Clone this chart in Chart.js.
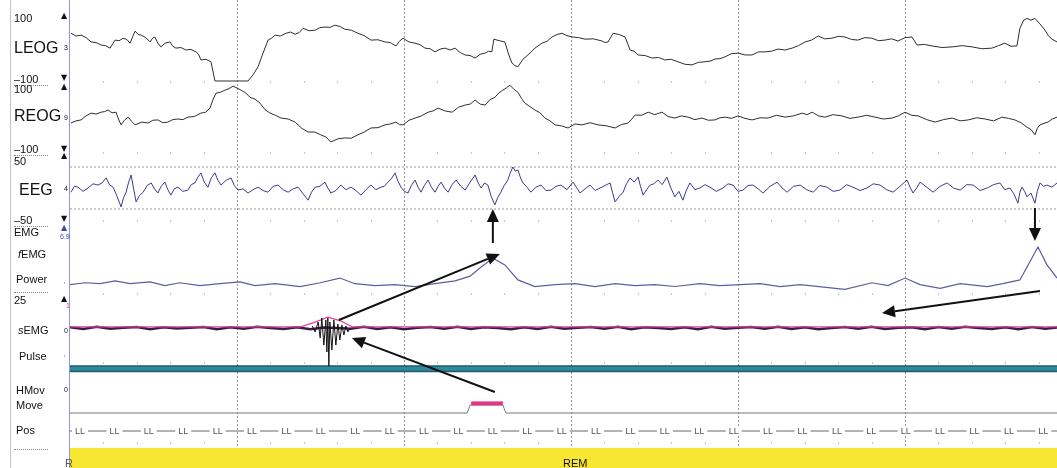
<!DOCTYPE html>
<html>
<head>
<meta charset="utf-8">
<title>PSG epoch</title>
<script src="https://cdn.jsdelivr.net/npm/chart.js@4.4.1/dist/chart.umd.min.js"></script>
<style>
html, body { margin: 0; padding: 0; background: #fff; }
#wrap { position: relative; width: 1057px; height: 468px; overflow: hidden; font-family: 'Liberation Sans', Arial, sans-serif; }
#psg { position: absolute; left: 0; top: 0; }
.lbl { position: absolute; line-height: 1; white-space: nowrap; color: #111; }
.s { font-size: 11px; }
.b { font-size: 16px; }
.t { font-size: 7px; }
.m { font-size: 8px; font-family: 'DejaVu Sans', sans-serif; }
.dot { border-bottom: 1px dotted #888; width: 34px; }
.rule { position: absolute; }
</style>
</head>
<body>
<div id="wrap">
  <canvas id="psg" width="1057" height="468"></canvas>
  <div class="rule" style="left:10px;top:0;width:1px;height:468px;background:#c4c4c4"></div>
  <div class="rule" style="left:69px;top:0;width:1px;height:468px;background:#8f93e3"></div>

  <div class="lbl s" style="left:14px;top:13px">100</div>
  <div class="lbl b" style="left:14px;top:40px">LEOG</div>
  <div class="lbl t" style="left:64px;top:44px">3</div>
  <div class="lbl m" style="left:61px;top:12px">▲</div>
  <div class="lbl m" style="left:61px;top:74px">▼</div>
  <div class="lbl s dot" style="left:14px;top:74px">–100</div>
  <div class="lbl s" style="left:14px;top:84px">100</div>
  <div class="lbl m" style="left:61px;top:83px">▲</div>
  <div class="lbl b" style="left:14px;top:108px">REOG</div>
  <div class="lbl t" style="left:64px;top:114px">9</div>
  <div class="lbl s dot" style="left:14px;top:144px">–100</div>
  <div class="lbl m" style="left:61px;top:145px">▼</div>
  <div class="lbl s" style="left:14px;top:156px">50</div>
  <div class="lbl m" style="left:61px;top:152px">▲</div>
  <div class="lbl b" style="left:19px;top:182px">EEG</div>
  <div class="lbl t" style="left:64px;top:185px">4</div>
  <div class="lbl s dot" style="left:14px;top:215px">–50</div>
  <div class="lbl m" style="left:61px;top:215px">▼</div>
  <div class="lbl s" style="left:14px;top:227px">EMG</div>
  <div class="lbl m" style="left:61px;top:224px;color:#3848b0">▲</div>
  <div class="lbl t" style="left:60px;top:233px;color:#3848b0">6.9</div>
  <div class="lbl s" style="left:18px;top:249px"><i>f</i>EMG</div>
  <div class="lbl s" style="left:16px;top:274px">Power</div>
  <div class="lbl t" style="left:64px;top:282px;color:#223">ʼ</div>
  <div class="rule" style="left:14px;top:292px;width:34px;border-top:1px dotted #888"></div>
  <div class="lbl s" style="left:14px;top:295px">25</div>
  <div class="lbl m" style="left:61px;top:295px">▲</div>
  <div class="lbl t" style="left:66px;top:302px;color:#e0409a">1</div>
  <div class="lbl s" style="left:18px;top:325px"><i>s</i>EMG</div>
  <div class="lbl t" style="left:64px;top:327px">0</div>
  <div class="lbl s" style="left:19px;top:351px">Pulse</div>
  <div class="lbl t" style="left:64px;top:355px;color:#223">ʼ</div>
  <div class="lbl s" style="left:16px;top:385px">HMov</div>
  <div class="lbl t" style="left:64px;top:386px">0</div>
  <div class="lbl s" style="left:16px;top:400px">Move</div>
  <div class="lbl s" style="left:16px;top:425px">Pos</div>
  <div class="rule" style="left:14px;top:449px;width:34px;border-top:1px dotted #888"></div>
  <div class="lbl s" style="left:65px;top:458px;color:#555">R</div>
  <div class="lbl s" style="left:563px;top:458px">REM</div>
</div>
<script>
// one 30 s epoch, [seconds, value] samples; dotted grid every 5 s
const EPOCH_END = 29.55;

// LEOG (uV), clipped at -100
const leog = [[0.03,54],[0.18,45],[0.33,48],[0.48,40],[0.63,26],[0.78,24],[0.93,16],[1.06,14],[1.20,6],[1.28,20],
  [1.35,32],[1.47,30],[1.59,38],[1.70,34],[1.80,22],[1.88,44],[1.95,61],[2.04,50],[2.13,48],[2.27,40],
  [2.40,26],[2.47,38],[2.54,42],[2.63,22],[2.72,10],[2.85,22],[2.99,26],[3.08,12],[3.17,6],[3.32,8],
  [3.47,0],[3.62,2],[3.77,-6],[3.85,-14],[3.92,-32],[4.07,-30],[4.22,-38],[4.34,-100],[5.33,-100],[5.48,-80],
  [5.63,-54],[5.78,-10],[5.93,32],[6.03,38],[6.14,48],[6.30,45],[6.47,54],[6.60,58],[6.74,51],[6.86,56],
  [6.98,70],[7.16,62],[7.34,64],[7.48,72],[7.63,74],[7.78,73],[7.93,80],[8.08,76],[8.23,67],[8.42,64],
  [8.62,54],[8.81,46],[9.01,32],[9.22,33],[9.43,26],[9.59,24],[9.76,13],[9.86,28],[9.97,38],[10.15,26],
  [10.33,22],[10.48,17],[10.63,6],[10.78,4],[10.93,-6],[11.08,3],[11.23,6],[11.38,0],[11.53,6],[11.68,-8],
  [11.83,-16],[11.98,-18],[12.13,-26],[12.28,-14],[12.43,-10],[12.53,-4],[12.63,-6],[12.69,35],[12.85,30],[13.02,26],
  [13.12,-10],[13.23,-42],[13.32,-50],[13.41,-54],[13.56,-30],[13.71,-16],[13.92,6],[14.13,22],[14.28,28],[14.43,42],
  [14.58,50],[14.73,54],[14.88,46],[15.03,42],[15.22,40],[15.42,35],[15.67,36],[15.93,29],[16.02,24],[16.11,26],
  [16.26,54],[16.44,50],[16.62,42],[16.77,0],[16.89,-4],[17.01,-16],[17.22,-18],[17.43,-26],[17.62,-24],[17.81,-32],
  [18.00,-30],[18.20,-38],[18.41,-46],[18.62,-48],[18.81,-40],[19.01,-38],[19.16,-36],[19.31,-29],[19.46,-28],[19.61,-22],
  [19.80,-12],[20.00,-10],[20.21,-16],[20.42,-16],[20.61,-6],[20.81,-6],[21.00,-4],[21.20,3],[21.41,0],[21.62,6],
  [21.81,14],[22.01,26],[22.20,32],[22.40,45],[22.60,36],[22.81,38],[23.00,44],[23.20,42],[23.40,34],[23.59,32],
  [23.80,40],[24.01,38],[24.20,30],[24.40,32],[24.60,36],[24.79,29],[25.00,40],[25.21,42],[25.36,16],[25.58,18],
  [25.81,13],[26.11,8],[26.41,10],[26.71,14],[27.01,10],[27.30,4],[27.60,6],[27.80,14],[27.99,22],[28.17,12],
  [28.35,13],[28.44,70],[28.55,96],[28.65,102],[28.77,96],[28.89,102],[29.04,84],[29.19,64],[29.30,45],[29.40,35],[29.55,26]];

// REOG (uV)
const reog = [[0.03,-13],[0.18,-6],[0.33,-3],[0.48,10],[0.63,19],[0.78,16],[0.93,22],[1.04,24],[1.14,29],[1.26,20],
  [1.38,22],[1.45,0],[1.53,-19],[1.63,-4],[1.74,6],[1.85,-8],[1.95,-19],[2.15,-10],[2.34,-13],[2.48,-4],
  [2.63,-3],[2.78,-12],[2.93,-10],[3.08,-2],[3.23,0],[3.38,-2],[3.53,6],[3.72,8],[3.92,19],[4.06,22],
  [4.19,35],[4.28,62],[4.37,83],[4.50,86],[4.64,93],[4.76,98],[4.88,106],[5.00,100],[5.12,93],[5.26,84],
  [5.39,70],[5.54,64],[5.69,51],[5.84,30],[5.99,19],[6.15,12],[6.32,3],[6.53,0],[6.74,-10],[6.94,-30],
  [7.13,-42],[7.32,-42],[7.51,-51],[7.66,-58],[7.81,-74],[8.02,-64],[8.23,-61],[8.42,-62],[8.62,-51],[8.81,-42],
  [9.01,-29],[9.22,-28],[9.43,-19],[9.59,-16],[9.76,-10],[9.86,-18],[9.97,-19],[10.15,-4],[10.33,3],[10.52,10],
  [10.72,22],[10.87,26],[11.02,35],[11.23,26],[11.44,22],[11.63,38],[11.83,45],[11.98,48],[12.13,61],[12.28,48],
  [12.43,45],[12.57,62],[12.72,70],[12.84,84],[12.96,93],[13.06,100],[13.17,109],[13.29,96],[13.41,86],[13.52,66],
  [13.62,51],[13.77,40],[13.92,29],[14.07,20],[14.22,3],[14.37,-6],[14.52,-19],[14.71,-22],[14.91,-29],[15.12,-16],
  [15.33,-19],[15.57,-12],[15.81,-19],[16.06,-22],[16.32,-29],[16.51,-18],[16.71,-13],[16.82,0],[16.92,13],[17.11,12],
  [17.31,22],[17.51,14],[17.72,22],[17.91,8],[18.11,3],[18.30,10],[18.50,6],[18.71,-2],[18.92,3],[19.11,-4],
  [19.31,-3],[19.46,4],[19.61,6],[19.80,2],[20.00,10],[20.21,2],[20.42,-3],[20.66,4],[20.90,3],[21.15,12],
  [21.41,6],[21.66,10],[21.92,19],[22.07,14],[22.22,22],[22.41,10],[22.60,6],[22.85,14],[23.11,10],[23.35,2],
  [23.59,6],[23.85,12],[24.10,6],[24.35,0],[24.61,3],[24.80,10],[25.00,22],[25.20,12],[25.39,10],[25.65,-2],
  [25.90,-10],[26.15,-2],[26.41,3],[26.65,-6],[26.89,-3],[27.15,4],[27.40,0],[27.65,-6],[27.90,6],[28.10,2],
  [28.29,-3],[28.47,-12],[28.65,-26],[28.77,-34],[28.89,-51],[28.96,-30],[29.04,-19],[29.16,-14],[29.28,-10],[29.41,0],[29.55,6]];

// EEG (uV)
const eeg = [[0.03,-10],[0.13,4],[0.24,2],[0.39,-8],[0.54,0],[0.69,10],[0.84,7],[0.96,12],[1.08,24],[1.18,8],
  [1.29,2],[1.41,-20],[1.53,-45],[1.60,-24],[1.68,-10],[1.75,12],[1.83,31],[1.90,0],[1.98,-33],[2.08,-18],
  [2.19,-10],[2.31,6],[2.43,12],[2.53,-2],[2.63,-12],[2.73,4],[2.84,14],[2.93,-4],[3.02,-17],[3.12,-2],
  [3.23,2],[3.38,-8],[3.53,-5],[3.63,8],[3.74,12],[3.83,26],[3.92,36],[4.02,14],[4.13,2],[4.23,24],
  [4.34,36],[4.43,18],[4.52,7],[4.67,18],[4.82,24],[4.92,6],[5.03,-5],[5.18,-2],[5.33,-12],[5.48,-4],
  [5.63,2],[5.78,-6],[5.93,-10],[6.08,4],[6.23,7],[6.38,-4],[6.53,-10],[6.68,-2],[6.83,2],[6.98,-14],
  [7.13,-29],[7.23,-10],[7.34,2],[7.48,4],[7.63,14],[7.72,0],[7.81,-12],[7.96,-6],[8.11,7],[8.26,-4],
  [8.41,2],[8.56,-6],[8.71,-17],[8.86,-4],[9.01,7],[9.16,-4],[9.31,2],[9.41,4],[9.52,14],[9.62,22],
  [9.73,36],[9.82,16],[9.91,2],[10.01,-8],[10.12,-12],[10.22,6],[10.33,19],[10.42,2],[10.51,-10],[10.61,6],
  [10.72,19],[10.82,2],[10.93,-10],[11.02,4],[11.11,14],[11.21,0],[11.32,-10],[11.44,8],[11.56,19],[11.70,4],
  [11.83,-5],[11.98,14],[12.13,31],[12.22,12],[12.31,0],[12.41,12],[12.51,7],[12.61,-20],[12.72,-40],[12.81,-22],
  [12.90,-10],[13.00,6],[13.11,19],[13.18,36],[13.26,50],[13.33,40],[13.41,43],[13.48,26],[13.56,12],[13.68,2],
  [13.80,-10],[13.95,2],[14.10,7],[14.25,-6],[14.40,-5],[14.55,4],[14.70,7],[14.88,-4],[15.06,14],[15.16,2],
  [15.27,-12],[15.42,-2],[15.57,7],[15.72,-6],[15.87,0],[16.02,6],[16.17,12],[16.24,-10],[16.32,-33],[16.44,-20],
  [16.56,-10],[16.66,10],[16.77,24],[16.89,14],[17.01,26],[17.08,4],[17.16,-17],[17.26,-4],[17.37,7],[17.48,10],
  [17.60,19],[17.73,8],[17.87,26],[17.99,0],[18.11,-21],[18.23,-8],[18.35,-29],[18.45,-6],[18.56,12],[18.71,-4],
  [18.86,0],[19.01,8],[19.16,2],[19.35,-8],[19.55,0],[19.70,10],[19.85,7],[20.00,-8],[20.15,-5],[20.30,6],
  [20.45,7],[20.60,-2],[20.75,-12],[20.96,4],[21.17,14],[21.32,0],[21.47,-10],[21.66,4],[21.86,7],[22.05,-4],
  [22.25,-10],[22.45,6],[22.66,2],[22.85,-8],[23.05,-5],[23.25,8],[23.44,2],[23.65,-6],[23.86,0],[24.05,10],
  [24.25,7],[24.45,-4],[24.64,-10],[24.85,4],[25.06,19],[25.15,2],[25.24,-12],[25.35,0],[25.45,14],[25.65,2],
  [25.84,-10],[26.05,4],[26.26,12],[26.45,0],[26.65,-5],[26.85,8],[27.04,7],[27.25,-6],[27.46,0],[27.65,8],
  [27.84,12],[27.99,-4],[28.14,0],[28.26,-14],[28.38,-36],[28.44,-10],[28.50,2],[28.58,-8],[28.65,-21],[28.77,-12],
  [28.89,-36],[28.96,-8],[29.04,12],[29.15,4],[29.25,7],[29.40,2],[29.55,12]];

// fEMG power (a.u.)
const power = [[0,1.1],[0.45,1.3],[0.90,1.2],[1.35,1.5],[1.80,1.2],[2.40,1.4],[2.84,1.0],[3.29,1.3],[3.89,1.0],[4.49,1.2],
  [5.09,1.4],[5.54,1.0],[6.14,1.2],[6.89,0.9],[7.49,1.3],[8.08,1.8],[8.53,1.2],[9.13,1.0],[9.73,1.1],[10.33,0.9],
  [10.93,1.2],[11.53,1.5],[11.98,2.0],[12.28,2.9],[12.66,3.9],[13.02,3.2],[13.41,1.6],[13.92,0.9],[14.52,1.1],[15.12,1.2],
  [15.72,0.9],[16.32,1.2],[16.92,1.0],[17.51,1.1],[18.11,0.9],[18.86,1.2],[19.46,1.0],[20.06,1.1],[20.66,1.2],[21.26,0.9],
  [21.86,1.1],[23.20,0.6],[24.01,1.3],[24.49,1.0],[25.00,1.8],[25.45,1.1],[26.05,0.7],[26.65,1.2],[27.46,0.9],[27.93,1.2],
  [28.44,1.6],[28.98,5.1],[29.25,3.2],[29.55,1.8]];

// sEMG (uV): background samples every 0.4 s, the burst, and its envelope
const SEMG_DT = 0.4;
const semgV = [0.6,-0.8,1,-0.6,0.2,0.8,-1,0.6,-0.4,0.2,0.8,-1,0.6,-0.6,1,0,-0.8,0.6,-1,0.4,
  0,-0.6,1,-0.8,0.6,-1,0.2,0.8,-0.6,1,-0.8,0.6,0,-1,0.6,-0.8,1,-0.6,0.2,0.8,
  -0.6,1,-1,0.6,0,-0.8,0.6,-1,1,-0.6,0.2,0.8,-0.6,1,-0.8,0.6,-1,0,0.8,-0.6,
  1,-0.8,0.2,0.6,-1,0.8,-0.6,1,0,-0.8,0.6,-1,0.8,-0.6,0.6];
const burst = [[7.25,1.7],[7.34,-3.3],[7.43,5],[7.49,-8.3],[7.54,8.3],[7.60,-14.2],[7.66,6.7],[7.69,-20],[7.72,8.3],[7.75,-31.7],
  [7.78,5],[7.84,-18.3],[7.90,6.7],[7.96,-14.2],[8.02,3.3],[8.08,-10],[8.14,2.5],[8.20,-5.8],[8.26,1.7],[8.32,-3.3],[8.38,0]];
const envelope = [[0,1],[6.9,1],[7.3,4.5],[7.72,9],[8.1,6],[8.45,1],[29.55,1]];

// pulse (bpm), head movement, position, stage
const pulse = [[0,52],[29.55,52]];
const move = [[0,0],[11.89,0],[11.98,1],[12.96,1],[13.05,0],[29.55,0]];
const moveFlag = [[12.01,1.2],[12.96,1.2]];
const posT = [0.30,1.33,2.36,3.39,4.42,5.45,6.48,7.51,8.54,9.57,10.60,11.63,12.66,13.69,14.72,15.75,16.78,17.81,18.84,19.87,
  20.90,21.93,22.96,23.99,25.02,26.05,27.08,28.11,29.14];
const posLabel = 'LL';
const stage = [[0,1],[29.55,1]];
const stageLabel = 'REM';

(function () {
	const H = 468;
	// y range of a channel so that hi sits at pixel row top and lo at pixel row bottom
	const band = (top, bottom, hi, lo) => {
		const k = (hi - lo) / (bottom - top);
		return { type: 'linear', display: false, min: lo - (H - bottom) * k, max: hi + top * k };
	};
	const pts = arr => arr.map(([x, y]) => ({ x, y }));
	const semg = semgV.map((v, i) => ({ x: i * SEMG_DT, y: v }));

	const line = (data, yAxisID, color, width, extra) => Object.assign({
		data, yAxisID, borderColor: color, borderWidth: width, pointRadius: 0, fill: false, tension: 0
	}, extra || {});

	const overlay = {
		id: 'overlay',
		afterDatasetsDraw(chart, args, opts) {
			const { ctx, scales } = chart;
			const x = scales.x, yn = scales.yNote, yp = scales.yPos;
			ctx.save();
			// one-second marks between rows
			ctx.strokeStyle = '#c8c8c8'; ctx.lineWidth = 1;
			for (let s = 1; s < EPOCH_END; s++) {
				if (s % 5 === 0) {continue;}
				const px = Math.round(x.getPixelForValue(s)) + 0.5;
				opts.tickRows.forEach(r => {
					const py = yn.getPixelForValue(r);
					ctx.beginPath(); ctx.moveTo(px, py - 1); ctx.lineTo(px, py + 1); ctx.stroke();
				});
			}
			// position labels
			ctx.font = '9px "Liberation Sans", Arial, sans-serif';
			ctx.textAlign = 'center'; ctx.textBaseline = 'middle';
			const py = yp.getPixelForValue(1);
			posT.forEach(t => {
				const px = x.getPixelForValue(t);
				ctx.fillStyle = '#fff'; ctx.fillRect(px - 8, py - 5, 16, 10);
				ctx.fillStyle = '#555'; ctx.fillText(posLabel, px, py + 0.5);
			});
			// annotation arrows
			ctx.strokeStyle = '#111'; ctx.fillStyle = '#111';
			opts.arrows.forEach(a => {
				const x1 = x.getPixelForValue(a.from[0]), y1 = yn.getPixelForValue(a.from[1]);
				const x2 = x.getPixelForValue(a.to[0]), y2 = yn.getPixelForValue(a.to[1]);
				const ang = Math.atan2(y2 - y1, x2 - x1), L = 13, W = 6;
				const bx = x2 - L * Math.cos(ang), by = y2 - L * Math.sin(ang);
				ctx.lineWidth = 2;
				ctx.beginPath(); ctx.moveTo(x1, y1); ctx.lineTo(bx, by); ctx.stroke();
				ctx.beginPath(); ctx.moveTo(x2, y2);
				ctx.lineTo(bx + W * Math.sin(ang), by - W * Math.cos(ang));
				ctx.lineTo(bx - W * Math.sin(ang), by + W * Math.cos(ang));
				ctx.closePath(); ctx.fill();
			});
			ctx.restore();
		}
	};

	new Chart(document.getElementById('psg'), {
		type: 'line',
		data: {
			datasets: [
				line(pts(leog), 'yLeog', '#2e2e2e', 1),
				line(pts(reog), 'yReog', '#2e2e2e', 1),
				line(pts(eeg), 'yEeg', '#3a3a8e', 1),
				line(pts([[0, 50], [EPOCH_END, 50]]), 'yEeg', '#999', 1, { borderDash: [2, 2] }),
				line(pts([[0, -50], [EPOCH_END, -50]]), 'yEeg', '#999', 1, { borderDash: [2, 2] }),
				line(pts(power), 'yPow', '#5b5f9e', 1.2),
				line(pts(burst), 'ySemg', '#151515', 1),
				line(pts(envelope), 'ySemg', '#e0409a', 1.2),
				line(semg, 'ySemg', '#3a1c48', 2.5),
				line(pts(pulse), 'yPulse', '#2f8a9c', 4),
				line(pts(pulse), 'yPulse', '#1d5b69', 7),
				line(pts(moveFlag), 'yMove', '#e3338a', 4),
				line(pts(move), 'yMove', '#777', 1),
				line(pts([[0, 1], [EPOCH_END, 1]]), 'yPos', '#666', 1),
				line(pts(stage), 'yStage', 'rgba(0,0,0,0)', 0, { fill: 'start', backgroundColor: '#f7e733', label: stageLabel })
			]
		},
		options: {
			responsive: false,
			animation: false,
			devicePixelRatio: 1,
			layout: { padding: { left: 70, right: 0, top: 0, bottom: 0 } },
			plugins: {
				legend: { display: false },
				tooltip: { enabled: false },
				overlay: {
					tickRows: [82, 153, 221, 294, 363, 443],
					arrows: [
						{ from: [12.66, 243], to: [12.66, 209] },
						{ from: [28.89, 208], to: [28.89, 241] },
						{ from: [8.05, 320], to: [12.87, 254] },
						{ from: [29.04, 291], to: [24.31, 313] },
						{ from: [12.72, 392], to: [8.44, 338] }
					]
				}
			},
			scales: {
				x: {
					type: 'linear', min: 0, max: EPOCH_END, position: 'bottom',
					ticks: { display: false, stepSize: 5 },
					grid: {
						drawTicks: false, lineWidth: 1,
						color: c => (c.tick && c.tick.value > 0 && c.tick.value < EPOCH_END && c.tick.value % 5 === 0) ? '#9a9a9a' : 'rgba(0,0,0,0)'
					},
					border: { display: false, dash: [2, 2] }
				},
				yLeog: band(19, 81, 100, -100),
				yReog: band(88, 150, 100, -100),
				yEeg: band(167, 209, 50, -50),
				yPow: band(230, 295, 6.9, 0),
				ySemg: band(298, 358, 25, -25),
				yPulse: band(340, 400, 100, 0),
				yMove: band(405, 413, 1, 0),
				yPos: band(431, 441, 1, 0),
				yStage: band(448, 468, 1, 0),
				yNote: { type: 'linear', display: false, min: 0, max: H, reverse: true }
			}
		},
		plugins: [overlay]
	});
})();
</script>
</body>
</html>
